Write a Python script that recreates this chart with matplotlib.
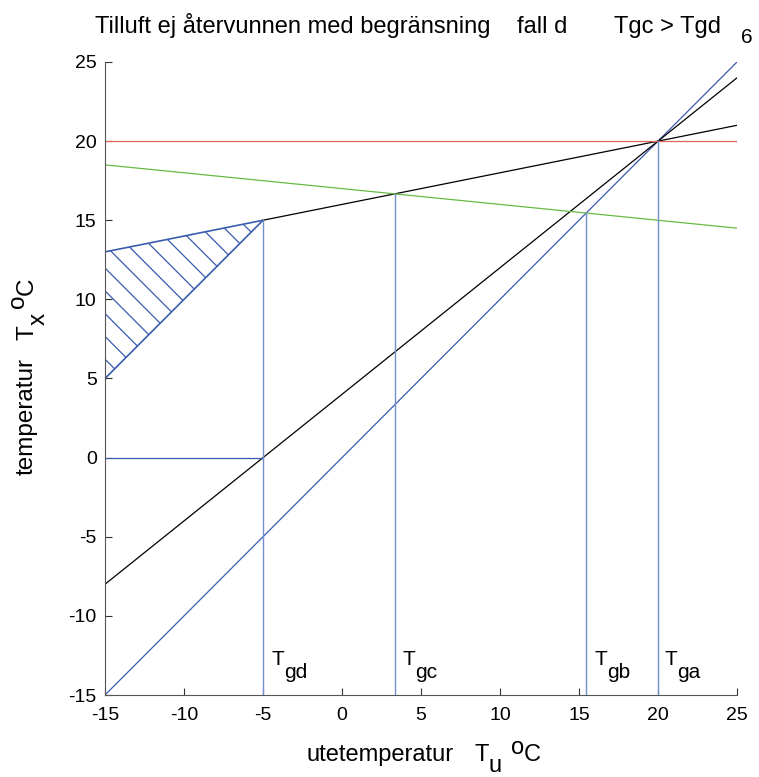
import matplotlib.pyplot as plt
import numpy as np

plt.rcParams['font.family'] = ['Liberation Sans', 'DejaVu Sans']
plt.rcParams['axes.unicode_minus'] = False

# data
x_range = [-15, 25]
blue_line = [-15, 25]            # Tx = Tu
black_low = [-8, 24]             # Tx = 0.8 Tu + 4
upper_x = [-5, 25]
black_up = [15, 21]              # Tx = 0.2 Tu + 16
green_line = [18.5, 14.5]        # Tx = -0.1 Tu + 17
tri_x = [-15, -5, -15]
tri_y = [13, 15, 5]
vert_x = [-5, 3.33, 15.45, 20]
vert_top = [15, 16.67, 15.45, 20]
vert_names = ['gd', 'gc', 'gb', 'ga']
label_x = [-4.45, 3.85, 15.95, 20.4]

blue = '#3a5bb0'
lblue = '#7090d0'
W, H = 759, 777

fig = plt.figure(figsize=(W / 100, H / 100), dpi=100)
ax = fig.add_axes([105 / W, 1 - 695 / H, 632 / W, 633 / H])
rend = fig.canvas.get_renderer()


def rich(x, y, parts, fs, vertical=False):
    # parts: (text, gap before in px, baseline shift in px, + = down)
    for s, gap, dy in parts:
        if vertical:
            y -= gap
            t = fig.text((x + dy) / W, 1 - y / H, s, fontsize=fs, rotation=90,
                         rotation_mode='anchor', ha='left', va='baseline')
            y -= t.get_window_extent(rend).height
        else:
            x += gap
            t = fig.text(x / W, 1 - (y + dy) / H, s, fontsize=fs,
                         ha='left', va='baseline')
            x += t.get_window_extent(rend).width


# hatched triangle: outline + diagonal hatch lines clipped to it
tri, = ax.fill(tri_x, tri_y, facecolor='none', edgecolor=blue, lw=1.2)
for c in np.arange(8.5, -10, -1.44):
    hl, = ax.plot([-15, -5], [15 + c, 5 + c], color=blue, lw=0.9)
    hl.set_clip_path(tri)

ax.plot(x_range, blue_line, color=blue, lw=0.9)
ax.plot(x_range, black_low, color='black', lw=0.9)
ax.plot(upper_x, black_up, color='black', lw=0.9)
ax.plot(x_range, green_line, color='#66bb44', lw=0.9)
ax.plot(x_range, [20, 20], color='#dd6655', lw=0.9)
ax.plot([-15, -5], [0, 0], color=blue, lw=0.9)

for vx, vt in zip(vert_x, vert_top):
    ax.plot([vx, vx], [-15, vt], color=lblue, lw=1.0)

ax.set_xlim(-15, 25)
ax.set_ylim(-15, 25)
ax.set_xticks(np.arange(-15, 26, 5))
ax.set_yticks(np.arange(-15, 26, 5))
ax.tick_params(direction='in', length=5, labelsize=14, color='#333333')
ax.tick_params(axis='x', pad=9)
ax.tick_params(axis='y', pad=6)
for s in ['top', 'right']:
    ax.spines[s].set_visible(False)
for s in ['left', 'bottom']:
    ax.spines[s].set_color('#555555')

# T_g labels at the vertical lines
for nm, lx in zip(vert_names, label_x):
    px = 105 + (lx + 15) * 632 / 40
    rich(px, 665, [('T', 0, 0), (nm, 0, 13)], 15)

# axis labels
rich(307, 761, [('utetemperatur', 0, 0), ('T', 20, 0), ('u', 0, 11),
                ('o', 9, -7), ('C', 0, 0)], 17)
rich(33, 475, [('temperatur', 0, 0), ('T', 18, 0), ('x', 0, 12),
               ('o', 5, -9), ('C', 0, 0)], 17.5, vertical=True)

# title
fig.text(95 / W, 1 - 33 / H, 'Tilluft ej återvunnen med begränsning',
         fontsize=17, ha='left', va='baseline')
fig.text(567 / W, 1 - 33 / H, 'fall d', fontsize=17, ha='right', va='baseline')
fig.text(614 / W, 1 - 33 / H, 'Tgc > Tgd', fontsize=17, ha='left', va='baseline')
fig.text(741 / W, 1 - 43 / H, '6', fontsize=15, ha='left', va='baseline')

fig.savefig('out.png', dpi=100)
